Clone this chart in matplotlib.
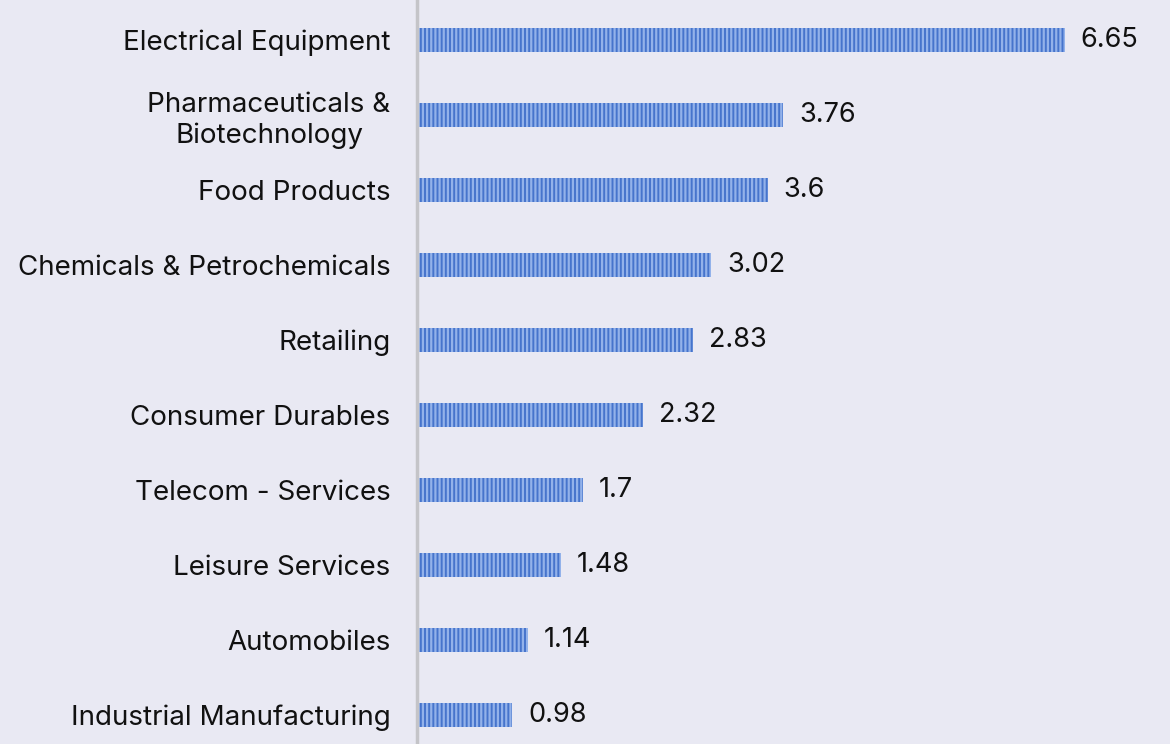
import matplotlib.pyplot as plt

categories = [
    "Electrical Equipment",
    "Pharmaceuticals &\nBiotechnology",
    "Food Products",
    "Chemicals & Petrochemicals",
    "Retailing",
    "Consumer Durables",
    "Telecom - Services",
    "Leisure Services",
    "Automobiles",
    "Industrial Manufacturing",
]
values = [6.65, 3.76, 3.6, 3.02, 2.83, 2.32, 1.7, 1.48, 1.14, 0.98]
value_labels = ["6.65", "3.76", "3.6", "3.02", "2.83", "2.32", "1.7", "1.48", "1.14", "0.98"]

plt.rcParams['font.family'] = ['Inter', 'DejaVu Sans']
plt.rcParams['hatch.linewidth'] = 1.6

bg = "#e9e9f3"
fig = plt.figure(figsize=(11.7, 7.44), dpi=100, facecolor=bg)
ax = fig.add_axes([417 / 1170, 0, 1 - 417 / 1170, 1], facecolor=bg)

pos = list(range(len(categories)))
ax.barh(pos, values, height=0.31, color="#4674cc", edgecolor="#93b2ea",
        linewidth=0, hatch="||||")

for p, v, t in zip(pos, values, value_labels):
    ax.annotate(t, (v, p), xytext=(11.5, 0), textcoords="offset points",
                ha="left", va="center", fontsize=19.5, color="#111111")

ax.set_xlim(0, 7.73)
ax.set_ylim(9.387, -0.533)
ax.set_yticks(pos)
ax.set_yticklabels(categories, fontsize=20, color="#111111",
                   multialignment="center", linespacing=1.25)
ax.tick_params(axis="y", length=0, pad=19)
ax.set_xticks([])

for s in ["top", "right", "bottom"]:
    ax.spines[s].set_visible(False)
ax.spines["left"].set_color("#c4c4c8")
ax.spines["left"].set_linewidth(2.5)

fig.savefig("out.png", dpi=100, facecolor=bg)
